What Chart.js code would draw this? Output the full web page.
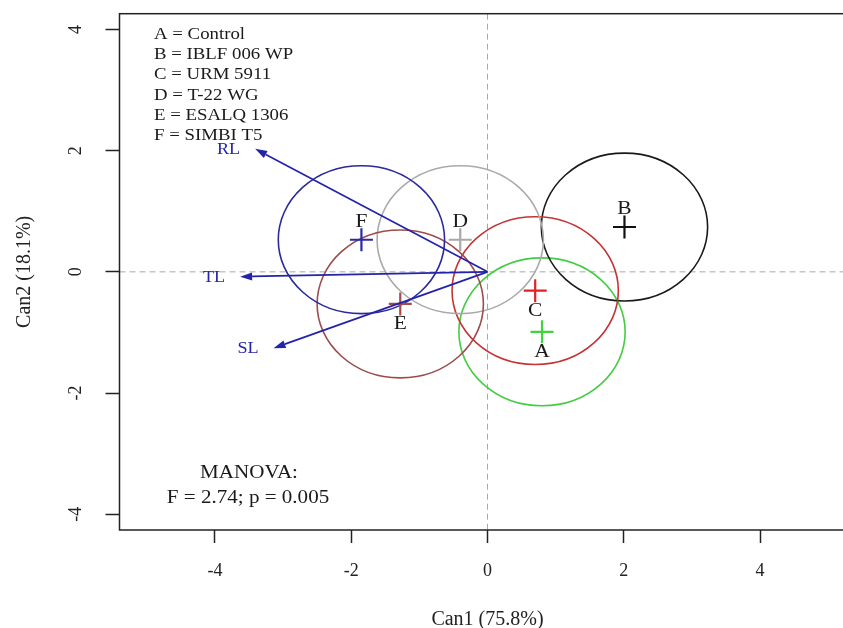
<!DOCTYPE html>
<html>
<head>
<meta charset="utf-8">
<script src="https://cdn.jsdelivr.net/npm/chart.js@4.4.1/dist/chart.umd.min.js"></script>
<style>
html,body{margin:0;padding:0;background:#fff;overflow:hidden;width:843px;height:628px;}
canvas{display:block;}
</style>
</head>
<body>
<canvas id="c" width="871" height="628"></canvas>
<script>
// ---- data ----
const groups = ['A', 'B', 'C', 'D', 'E', 'F'];
const groupNames = ['Control', 'IBLF 006 WP', 'URM 5911', 'T-22 WG', 'ESALQ 1306', 'SIMBI T5'];
const can1 = [0.80, 2.01, 0.70, -0.40, -1.28, -1.85];
const can2 = [-0.99, 0.74, -0.31, 0.53, -0.53, 0.53];
const radii = [1.22, 1.22, 1.22, 1.22, 1.22, 1.22];
const labelAbove = [false, true, false, true, false, true];
const crossColors = ['#3fd43f', '#111111', '#e02222', '#a8a8a8', '#a84a4a', '#2a2aa8'];
const circleColors = ['#44cc44', '#1a1a1a', '#c43434', '#aaaaaa', '#9c4c4c', '#2a2a9c'];
const varNames = ['RL', 'TL', 'SL'];
const varCan1 = [-3.41, -3.63, -3.14];
const varCan2 = [2.03, -0.08, -1.26];
const xTicks = [-4, -2, 0, 2, 4];
const yTicks = [-4, -2, 0, 2, 4];
const xTitle = 'Can1 (75.8%)';
const yTitle = 'Can2 (18.1%)';
const manovaLines = ['MANOVA:', 'F = 2.74; p = 0.005'];

const FONT = "'Liberation Serif', 'DejaVu Serif', serif";

function stretchText(ctx, text, x, y, align, sx) {
  ctx.save();
  ctx.translate(x, y);
  ctx.scale(sx, 1);
  ctx.textAlign = align;
  ctx.fillText(text, 0, 0);
  ctx.restore();
}

const overlay = {
  id: 'overlay',
  beforeDatasetsDraw(chart) {
    const {ctx, chartArea: ca, scales: {x, y}} = chart;
    ctx.save();
    ctx.beginPath();
    ctx.rect(ca.left, ca.top, ca.right - ca.left, ca.bottom - ca.top);
    ctx.clip();
    // dashed zero lines
    ctx.strokeStyle = '#a8a8a8';
    ctx.lineWidth = 1;
    ctx.setLineDash([6, 4]);
    const x0 = x.getPixelForValue(0), y0 = y.getPixelForValue(0);
    ctx.beginPath(); ctx.moveTo(x0, ca.top); ctx.lineTo(x0, ca.bottom); ctx.stroke();
    ctx.beginPath(); ctx.moveTo(ca.left, y0); ctx.lineTo(ca.right, y0); ctx.stroke();
    ctx.setLineDash([]);
    // circles
    groups.forEach((g, i) => {
      const cx = x.getPixelForValue(can1[i]);
      const cy = y.getPixelForValue(can2[i]);
      const rx = Math.abs(x.getPixelForValue(can1[i] + radii[i]) - cx);
      const ry = Math.abs(y.getPixelForValue(can2[i] + radii[i]) - cy);
      ctx.strokeStyle = circleColors[i];
      ctx.lineWidth = 1.6;
      ctx.beginPath();
      ctx.ellipse(cx, cy, rx, ry, 0, 0, Math.PI * 2);
      ctx.stroke();
    });
    ctx.restore();
  },
  afterDatasetsDraw(chart) {
    const {ctx, chartArea: ca, scales: {x, y}} = chart;
    ctx.save();
    ctx.textBaseline = 'middle';
    // arrows
    const ox = x.getPixelForValue(0), oy = y.getPixelForValue(0);
    ctx.strokeStyle = '#2323ac';
    ctx.fillStyle = '#2323ac';
    ctx.lineWidth = 1.7;
    varNames.forEach((v, i) => {
      const tx = x.getPixelForValue(varCan1[i]);
      const ty = y.getPixelForValue(varCan2[i]);
      const ang = Math.atan2(ty - oy, tx - ox);
      const hl = 12, hw = 4;
      const bx = tx - hl * Math.cos(ang), by = ty - hl * Math.sin(ang);
      ctx.beginPath(); ctx.moveTo(ox, oy); ctx.lineTo(bx, by); ctx.stroke();
      ctx.beginPath();
      ctx.moveTo(tx, ty);
      ctx.lineTo(bx + hw * Math.sin(ang), by - hw * Math.cos(ang));
      ctx.lineTo(bx - hw * Math.sin(ang), by + hw * Math.cos(ang));
      ctx.closePath(); ctx.fill();
      ctx.font = '16px ' + FONT;
      stretchText(ctx, v, tx - 15, ty + 1, 'right', 1.13);
    });
    // group letters
    ctx.fillStyle = '#1a1a1a';
    ctx.font = '19px ' + FONT;
    groups.forEach((g, i) => {
      const px = x.getPixelForValue(can1[i]);
      const py = y.getPixelForValue(can2[i]);
      stretchText(ctx, g, px, py + (labelAbove[i] ? -18 : 20), 'center', 1.13);
    });
    // legend
    ctx.font = '16.5px ' + FONT;
    ctx.fillStyle = '#1a1a1a';
    groups.forEach((g, i) => {
      stretchText(ctx, g + ' = ' + groupNames[i], ca.left + 34.5, ca.top + 20.5 + i * 20.35, 'left', 1.14);
    });
    // MANOVA
    ctx.font = '18px ' + FONT;
    stretchText(ctx, manovaLines[0], 249, 473, 'center', 1.17);
    stretchText(ctx, manovaLines[1], 248, 498, 'center', 1.17);
    // box
    ctx.strokeStyle = '#222';
    ctx.lineWidth = 1.5;
    ctx.strokeRect(ca.left, ca.top, ca.right - ca.left, ca.bottom - ca.top);
    ctx.restore();
  }
};

const points = groups.map((g, i) => ({x: can1[i], y: can2[i]}));

new Chart(document.getElementById('c'), {
  type: 'scatter',
  data: {
    datasets: [{
      data: points,
      pointStyle: 'cross',
      pointRadius: 11.5,
      pointHoverRadius: 11.5,
      pointBorderWidth: 2.2,
      pointBorderColor: crossColors,
      pointBackgroundColor: crossColors,
      showLine: false
    }]
  },
  options: {
    responsive: false,
    animation: false,
    events: [],
    layout: {padding: {top: 13, right: 15.5, bottom: 0, left: 0}},
    plugins: {legend: {display: false}, tooltip: {enabled: false}},
    scales: {
      x: {
        type: 'linear',
        min: -5.40,
        max: 5.40,
        afterBuildTicks: s => { s.ticks = xTicks.map(v => ({value: v})); },
        afterFit: s => { s.height = 98; s.paddingLeft = 0; s.paddingRight = 0; },
        grid: {display: true, drawOnChartArea: false, drawTicks: true, tickLength: 13, tickColor: '#222', tickWidth: 1.5, color: 'rgba(0,0,0,0)'},
        border: {display: false},
        ticks: {color: '#222', font: {family: FONT, size: 18}, padding: 17, maxRotation: 0, autoSkip: false},
        title: {display: true, text: xTitle, color: '#222', font: {family: FONT, size: 20}, padding: {top: -4, bottom: -4}}
      },
      y: {
        type: 'linear',
        min: -4.26,
        max: 4.26,
        afterBuildTicks: s => { s.ticks = yTicks.map(v => ({value: v})); },
        afterFit: s => { s.width = 119.5; s.paddingTop = 0; s.paddingBottom = 0; },
        grid: {display: true, drawOnChartArea: false, drawTicks: true, tickLength: 14, tickColor: '#222', tickWidth: 1.5, color: 'rgba(0,0,0,0)'},
        border: {display: false},
        ticks: {color: '#222', font: {family: FONT, size: 18}, padding: 22, minRotation: 90, maxRotation: 90, crossAlign: 'center', autoSkip: false},
        title: {display: true, text: yTitle, color: '#222', font: {family: FONT, size: 20}, padding: {top: 13, bottom: 0}}
      }
    }
  },
  plugins: [overlay]
});
</script>
</body>
</html>
